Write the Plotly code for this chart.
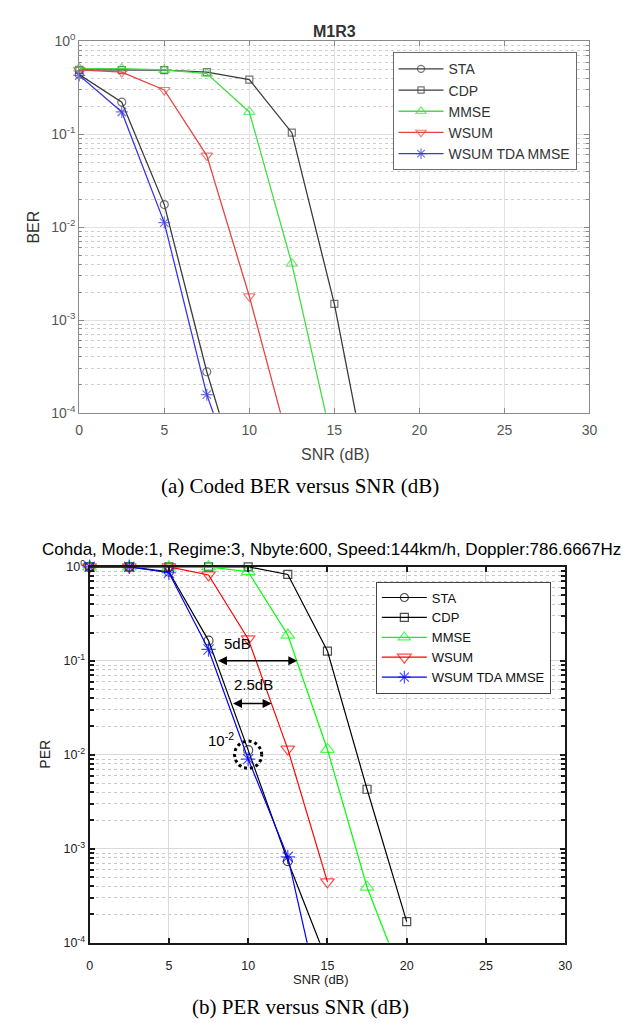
import numpy as np
import plotly.graph_objects as go

# ---------------- data ----------------
snr = [0, 2.5, 5, 7.5, 10, 12.5, 15, 17.5, 20]
names = ["STA", "CDP", "MMSE", "WSUM", "WSUM TDA MMSE"]

# (a) coded BER
ber_sta = [0.44, 0.222, 0.0175, 2.77e-4, 8.5e-6, None, None, None, None]
ber_cdp = [0.495, 0.49, 0.49, 0.468, 0.388, 0.104, 1.49e-3, 6.7e-6, None]
ber_mmse = [0.51, 0.51, 0.495, 0.45, 0.174, 4.05e-3, 3.8e-5, None, None]
ber_wsum = [0.495, 0.468, 0.30, 0.059, 1.8e-3, 3.5e-5, None, None, None]
ber_tda = [0.43, 0.174, 0.0112, 1.57e-4, 8e-6, None, None, None, None]

# (b) PER
per_sta = [1.0, 1.0, 0.887, 0.164, 0.0112, 7.4e-4, 6.2e-5, None, None]
per_cdp = [1.0, 1.0, 1.0, 1.0, 1.0, 0.83, 0.127, 4.3e-3, 1.68e-4]
per_mmse = [1.0, 1.0, 1.0, 1.0, 0.887, 0.188, 0.0114, 3.9e-4, 3.2e-5]
per_wsum = [1.0, 1.0, 1.0, 0.82, 0.171, 0.0115, 4.45e-4, None, None]
per_tda = [1.0, 1.0, 0.865, 0.132, 9.0e-3, 8.2e-4, 1.1e-5, None, None]

x_ticks = [0, 5, 10, 15, 20, 25, 30]
y_tickvals = [1e-4, 1e-3, 1e-2, 1e-1, 1]
y_ticktext = ["10<sup>-4</sup>", "10<sup>-3</sup>", "10<sup>-2</sup>",
              "10<sup>-1</sup>", "10<sup>0</sup>"]

top_title = "M1R3"
bot_title = "Cohda, Mode:1, Regime:3, Nbyte:600, Speed:144km/h, Doppler:786.6667Hz"
cap_a = "(a) Coded BER versus SNR (dB)"
cap_b = "(b) PER versus SNR (dB)"

# ---------------- styles ----------------
W, H = 636, 1032
SANS = "Liberation Sans, Arial, sans-serif"
SERIF = "Liberation Serif, Times New Roman, serif"

top_colors = ["#3c3c3c", "#3c3c3c", "#44dd44", "#e64444", "#3838e0"]
bot_colors = ["#000000", "#000000", "#00ff00", "#ff0000", "#0000ff"]
symbols = ["circle-open", "square-open", "triangle-up-open", "triangle-down-open", "asterisk-open"]
top_sizes = [8, 7, 10, 10, 10]
bot_sizes = [9, 8, 12, 12, 12]


def px_x(p):
    return p / W


def px_y(p):
    return 1 - p / H


def visible_sizes(vals, s):
    # hide markers for points that fall below the visible range (line still continues)
    return [0 if (v is not None and v < 1e-4) else s for v in vals]


fig = go.Figure()

top_series = [ber_sta, ber_cdp, ber_mmse, ber_wsum, ber_tda]
bot_series = [per_sta, per_cdp, per_mmse, per_wsum, per_tda]

for i, (nm, vals) in enumerate(zip(names, top_series)):
    fig.add_trace(go.Scatter(
        x=snr, y=vals, name=nm, mode="lines+markers",
        line=dict(color=top_colors[i], width=1.3),
        marker=dict(symbol=symbols[i], size=visible_sizes(vals, top_sizes[i]),
                    color=top_colors[i], line=dict(width=1.2, color=top_colors[i])),
        xaxis="x", yaxis="y", legend="legend", cliponaxis=False, connectgaps=False,
        hoverinfo="skip"))

for i, (nm, vals) in enumerate(zip(names, bot_series)):
    fig.add_trace(go.Scatter(
        x=snr, y=vals, name=nm, mode="lines+markers",
        line=dict(color=bot_colors[i], width=1.2),
        marker=dict(symbol=symbols[i], size=visible_sizes(vals, bot_sizes[i]),
                    color=bot_colors[i], line=dict(width=1.2, color=bot_colors[i])),
        xaxis="x2", yaxis="y2", legend="legend2", cliponaxis=False, connectgaps=False,
        hoverinfo="skip"))

# dotted circle marking the 10^-2 crossing (centre in data units)
circ_cx, circ_cy = 10, 1e-2
circ_rx, circ_rdec = 0.86, 0.146
t = np.linspace(0, 2 * np.pi, 80)
fig.add_trace(go.Scatter(
    x=circ_cx + circ_rx * np.cos(t),
    y=10 ** (np.log10(circ_cy) + circ_rdec * np.sin(t)),
    mode="lines", line=dict(color="black", width=3, dash="dot"),
    xaxis="x2", yaxis="y2", showlegend=False, hoverinfo="skip"))

# ---------------- axes ----------------
top_dom_x = [px_x(76.7), px_x(596.7)]
top_dom_y = [px_y(410), px_y(32)]
bot_dom_x = [px_x(87.3), px_x(572)]
bot_dom_y = [px_y(949.3), px_y(566.7)]

top_axis_common = dict(showline=True, linecolor="#8a8a8a", linewidth=1, mirror="allticks",
                       ticks="inside", ticklen=5, tickcolor="#8a8a8a",
                       tickfont=dict(family=SANS, size=14, color="#555555"),
                       showgrid=True, gridcolor="#e2e2e2", gridwidth=1, zeroline=False)
bot_axis_common = dict(showline=True, linecolor="#1a1a1a", linewidth=2, mirror="allticks",
                       ticks="inside", ticklen=5, tickcolor="#1a1a1a", tickwidth=2,
                       tickfont=dict(family=SANS, size=12.5, color="#222222"),
                       showgrid=True, gridcolor="#d9d9d9", gridwidth=1, zeroline=False)

fig.update_layout(
    width=W, height=H, margin=dict(l=0, r=0, t=0, b=0),
    paper_bgcolor="white", plot_bgcolor="white",
    xaxis=dict(domain=top_dom_x, anchor="y", range=[0, 30], tickvals=x_ticks,
               ticklabelstandoff=4, **top_axis_common),
    yaxis=dict(domain=top_dom_y, anchor="x", type="log", range=[-4, 0],
               tickmode="array", tickvals=y_tickvals, ticktext=y_ticktext,
               minor=dict(dtick="D1", ticks="inside", ticklen=3, tickcolor="#8a8a8a",
                          showgrid=True, gridcolor="#cfcfcf", griddash="dot", gridwidth=1),
               **top_axis_common),
    xaxis2=dict(domain=bot_dom_x, anchor="y2", range=[0, 30], tickvals=x_ticks,
                ticklabelstandoff=10, **bot_axis_common),
    yaxis2=dict(domain=bot_dom_y, anchor="x2", type="log", range=[-4, 0],
                tickmode="array", tickvals=y_tickvals, ticktext=y_ticktext,
                minor=dict(dtick="D1", ticks="inside", ticklen=4, tickcolor="#1a1a1a", tickwidth=2,
                           showgrid=True, gridcolor="#c8c8c8", griddash="dot", gridwidth=1),
                **bot_axis_common),
    legend=dict(x=px_x(396), y=px_y(43), xanchor="left", yanchor="top",
                bgcolor="white", bordercolor="#6a6a6a", borderwidth=1,
                font=dict(family=SANS, size=14, color="#333333"),
                itemwidth=45, tracegroupgap=0),
    legend2=dict(x=px_x(379), y=px_y(581.7), xanchor="left", yanchor="top",
                 bgcolor="white", bordercolor="#444444", borderwidth=1,
                 font=dict(family=SANS, size=13, color="#111111"),
                 itemwidth=45, tracegroupgap=0),
    showlegend=True,
)

ann = []


def label(text, x, y, size, color="black", family=SANS, angle=0):
    ann.append(dict(text=text, x=px_x(x), y=px_y(y), xref="paper", yref="paper",
                    xanchor="center", yanchor="middle", textangle=angle, showarrow=False,
                    font=dict(family=family, size=size, color=color)))


label("<b>" + top_title + "</b>", 337, 22, 16, "#333333")
label("BER", 30, 221, 16, "#333333", angle=-90)
label("SNR (dB)", 337, 452, 16, "#444444")
label(cap_a, 302, 484, 21, "black", SERIF)
label(bot_title, 334, 549, 17, "black")
label("PER", 42, 757.7, 14, "#222222", angle=-90)
label("SNR (dB)", 323, 987, 13, "#222222")
label(cap_b, 302, 1015, 21, "black", SERIF)

# in-plot annotations (log axis -> log10 units)
for txt, xv, yv in [("5dB", 9.33, np.log10(0.152)), ("2.5dB", 10.36, -1.247),
                    ("10<sup>-2</sup>", 8.3, -1.84)]:
    ann.append(dict(text=txt, x=xv, y=yv, xref="x2", yref="y2", showarrow=False,
                    xanchor="center", yanchor="middle",
                    font=dict(family=SANS, size=15, color="black")))
for (x0, x1, yv) in [(8.0, 13.1, -1.0), (8.95, 11.48, -1.453)]:
    ann.append(dict(text="", x=x1, y=yv, ax=x0, ay=yv, xref="x2", yref="y2",
                    axref="x2", ayref="y2", showarrow=True, arrowhead=2, arrowside="end+start",
                    arrowsize=1.2, arrowwidth=1.5, arrowcolor="black", standoff=0, startstandoff=0))
fig.update_layout(annotations=ann)

fig.write_html("out.html", config={"displayModeBar": False},
               post_script="document.body.style.margin='0';document.body.style.overflow='hidden';")
